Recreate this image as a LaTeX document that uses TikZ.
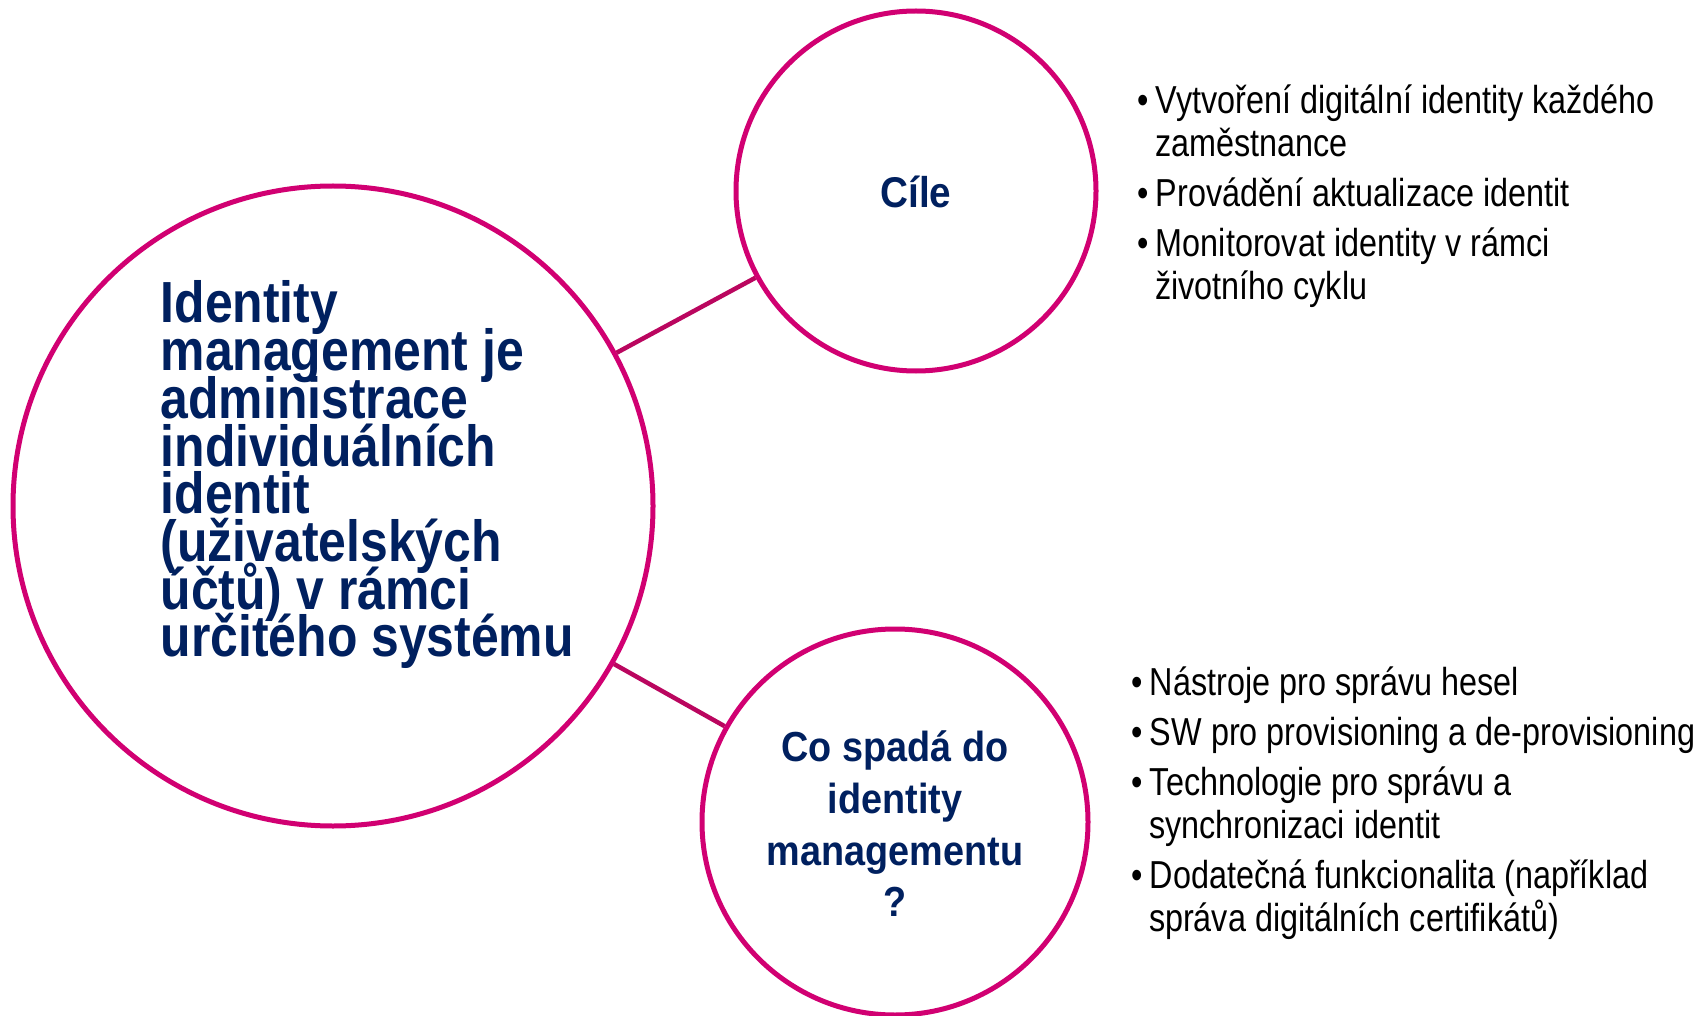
\documentclass[tikz,border=0pt]{standalone}
\usepackage{fontspec}
\setmainfont{Liberation Sans}
\newfontfamily\bigf[FakeStretch=0.86]{Liberation Sans Bold}
\newfontfamily\midf[FakeStretch=0.9]{Liberation Sans Bold}
\newfontfamily\listf[FakeStretch=0.83]{Liberation Sans}
\definecolor{mag}{HTML}{D10072}
\definecolor{linkc}{HTML}{BA065F}
\definecolor{navy}{HTML}{00205F}
\newcommand\bitem[1]{\hbox{\makebox[19pt][l]{•}#1}}
\newcommand\bcont[1]{\hbox{\hspace*{18pt}#1}}
\begin{document}
\begin{tikzpicture}[x=1pt,y=-1pt,
  ring/.style={circle,draw=mag,line width=5pt,inner sep=0pt,minimum size=#1},
  link/.style={draw=linkc,line width=4.5pt},
  txt/.style={inner sep=0pt,outer sep=0pt}]
\useasboundingbox[fill=white] (0,0) rectangle (1700,1016);
\node[ring=640pt] (main) at (333,506) {};
\node[ring=360pt] (goals) at (916,191) {};
\node[ring=386pt] (scope) at (895,822) {};
\draw[link] (main) -- (goals);
\draw[link] (main) -- (scope);
\node[txt,anchor=base west] (maintext) at (160.7,323) {\bigf\fontsize{58pt}{47.7pt}\selectfont\color{navy}\lineskiplimit=-1000pt
 \vtop{\hbox{Identity}\hbox{management je}\hbox{administrace}\hbox{individuálních}\hbox{identit}\hbox{(uživatelských}\hbox{účtů) v rámci}\hbox{určitého systému}}};
\node[txt,anchor=base] (goalstext) at (916,208) {\midf\fontsize{43pt}{50pt}\selectfont\color{navy}Cíle};
\node[txt,anchor=base] (scopetext) at (895,761.7) {\midf\fontsize{42pt}{51.7pt}\selectfont\color{navy}\lineskiplimit=-1000pt
 \vtop{\halign{\hfil#\hfil\cr Co spadá do\cr identity\cr managementu\cr ?\cr}}};
\node[txt,anchor=base west] (goalslist) at (1137,114) {\listf\fontsize{39pt}{43pt}\selectfont\lineskiplimit=-1000pt
 \vtop{\bitem{Vytvoření digitální identity každého}\bcont{zaměstnance}\vskip7pt
 \bitem{Provádění aktualizace identit}\vskip7pt
 \bitem{Monitorovat identity v rámci}\bcont{životního cyklu}}};
\node[txt,anchor=base west] (scopelist) at (1131,695) {\listf\fontsize{39pt}{43pt}\selectfont\lineskiplimit=-1000pt
 \vtop{\bitem{Nástroje pro správu hesel}\vskip7pt
 \bitem{SW pro provisioning a de-provisioning}\vskip7pt
 \bitem{Technologie pro správu a}\bcont{synchronizaci identit}\vskip7pt
 \bitem{Dodatečná funkcionalita (například}\bcont{správa digitálních certifikátů)}}};
\end{tikzpicture}
\end{document}
